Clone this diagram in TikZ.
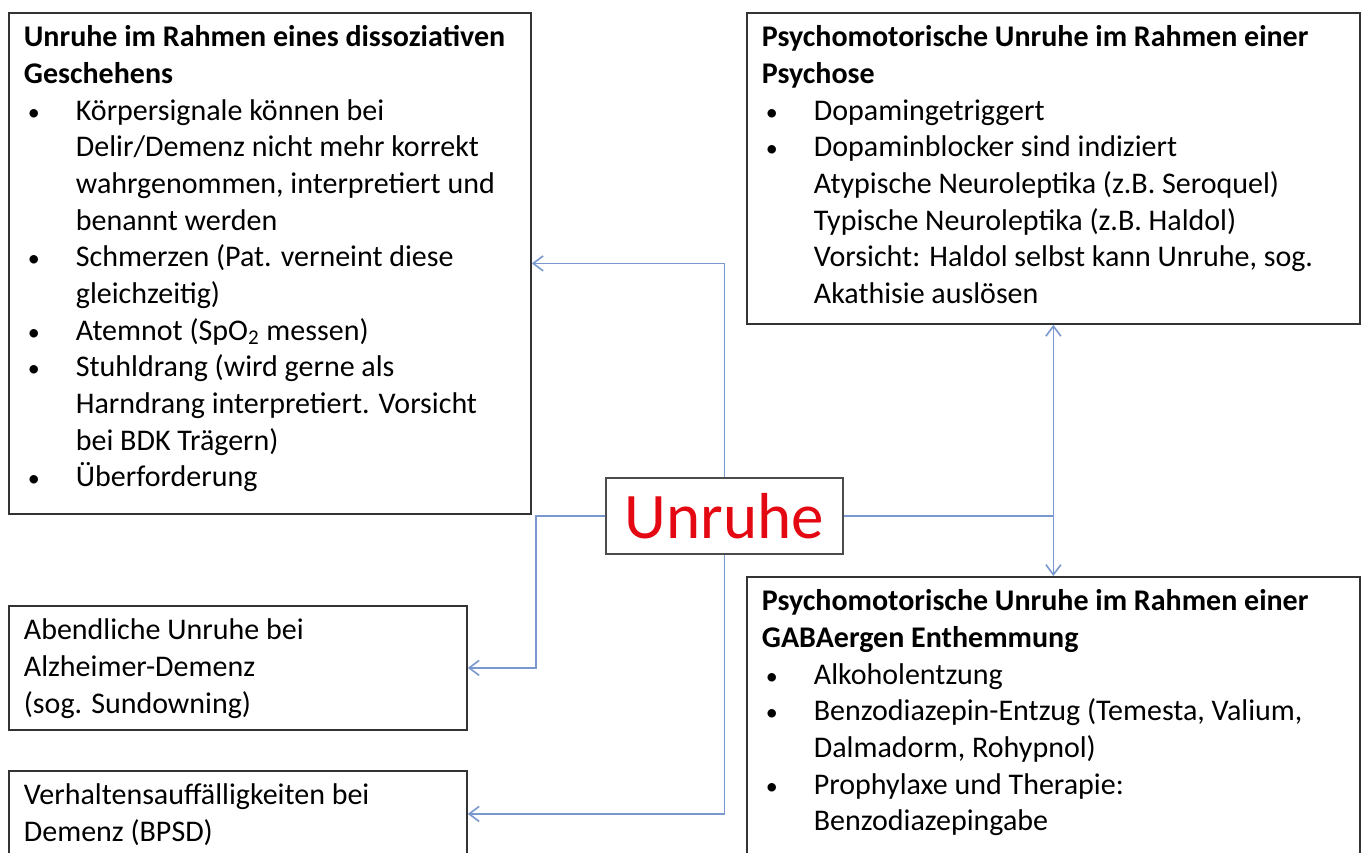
\documentclass[tikz,border=0pt]{standalone}
\usepackage{fontspec}
\setmainfont{Carlito}
\usepackage{tikz}
\usetikzlibrary{calc,arrows.meta}
\definecolor{linkblue}{RGB}{120,152,206}
\definecolor{unruhered}{RGB}{228,8,18}
\newcommand{\bul}{\makebox[26pt][l]{\hspace{2pt}\scalebox{0.8}{\textbullet}}}
\newcommand{\ind}{\hspace*{26pt}}
\newcommand{\boxtext}[3]{\parbox[c][#2][t]{#1}{\fontsize{15}{18.33}\selectfont\rule{0pt}{17pt}#3}}

\begin{document}
\begin{tikzpicture}[x=0.5pt,y=0.5pt,>={Straight Barb[length=5pt,width=7.5pt]}]
\tikzstyle{box}=[draw=black!80,line width=0.9pt,fill=white,anchor=north west,inner xsep=7.5pt,inner ysep=0pt]
\tikzstyle{hub}=[draw=black!70,line width=0.6pt,fill=white,text=unruhered,minimum width=118.5pt,minimum height=38pt,inner sep=0pt,font=\fontsize{32.5}{36}\selectfont]
\tikzstyle{link}=[linkblue,line width=0.8pt]
\useasboundingbox (0,0) rectangle (1363,-852);
\clip (0,0) rectangle (1363,-852);
\node[box] (dis) at (8,-12) {\boxtext{246pt}{250.5pt}{\textbf{Unruhe im Rahmen eines dissoziativen}\\
  \textbf{Geschehens}\\
  \bul Körpersignale können bei\\
  \ind Delir/Demenz nicht mehr korrekt\\
  \ind wahrgenommen, interpretiert und\\
  \ind benannt werden\\
  \bul Schmerzen (Pat. verneint diese\\
  \ind gleichzeitig)\\
  \bul Atemnot (SpO\textsubscript{2} messen)\\
  \bul Stuhldrang (wird gerne als\\
  \ind Harndrang interpretiert. Vorsicht\\
  \ind bei BDK Trägern)\\
  \bul Überforderung}};
\node[box] (psy) at (746,-12) {\boxtext{291.5pt}{155.5pt}{\textbf{Psychomotorische Unruhe im Rahmen einer}\\
  \textbf{Psychose}\\
  \bul Dopamingetriggert\\
  \bul Dopaminblocker sind indiziert\\
  \ind Atypische Neuroleptika (z.B. Seroquel)\\
  \ind Typische Neuroleptika (z.B. Haldol)\\
  \ind Vorsicht: Haldol selbst kann Unruhe, sog.\\
  \ind Akathisie auslösen}};
\node[box] (gaba) at (746,-576) {\boxtext{291.5pt}{150pt}{\textbf{Psychomotorische Unruhe im Rahmen einer}\\
  \textbf{GABAergen Enthemmung}\\
  \bul Alkoholentzung\\
  \bul Benzodiazepin-Entzug (Temesta, Valium,\\
  \ind Dalmadorm, Rohypnol)\\
  \bul Prophylaxe und Therapie:\\
  \ind Benzodiazepingabe}};
\node[box] (sun) at (8,-605) {\boxtext{214pt}{62pt}{Abendliche Unruhe bei\\
  Alzheimer-Demenz\\
  (sog. Sundowning)}};
\node[box] (bpsd) at (8,-770) {\boxtext{214pt}{43pt}{Verhaltensauffälligkeiten bei\\
  Demenz (BPSD)}};
\node[hub] (u) at (724.5,-516) {Unruhe};
\coordinate (k) at (536,-516);
\coordinate (j) at (psy.south |- u.east);
\draw[link,->] (u.north) |- (dis.east);
\draw[link,->] (u.west) -- (k) |- (sun.east);
\draw[link,->] (u.south) |- (bpsd.east);
\draw[link] (u.east) -- (j);
\draw[link,->] (j) -- (psy.south);
\draw[link,->] (j) -- (gaba.north);
\end{tikzpicture}
\end{document}
